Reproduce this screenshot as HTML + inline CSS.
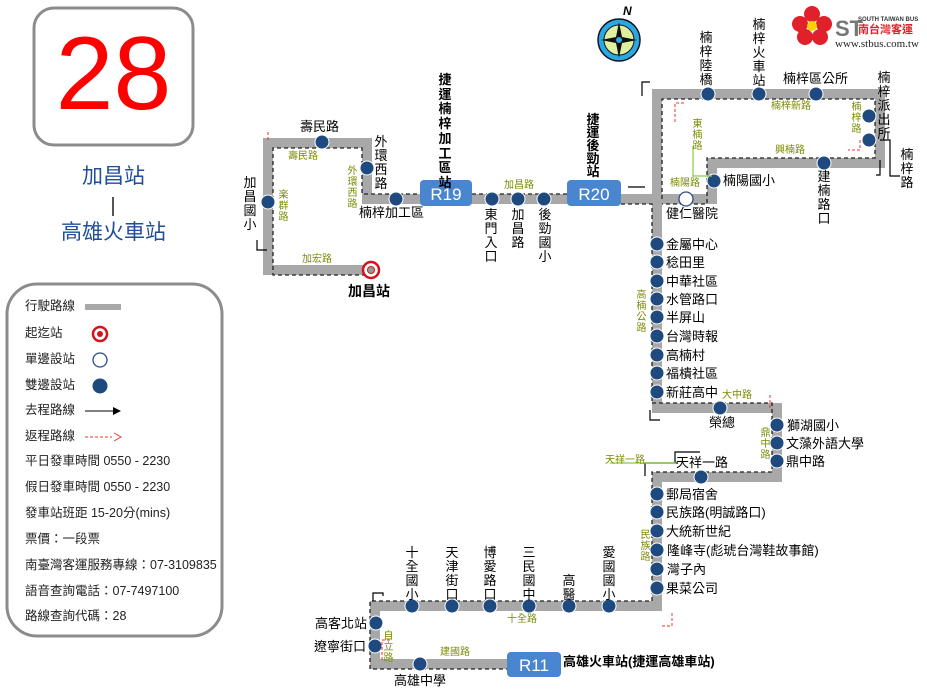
<!DOCTYPE html>
<html><head><meta charset="utf-8"><style>
body{margin:0;width:927px;height:694px;position:relative;background:#fff;font-family:"Liberation Sans","Noto Sans CJK TC",sans-serif;overflow:hidden}
.t{position:absolute;font-size:13px;color:#000;white-space:nowrap;line-height:1}
.v{position:absolute;font-size:13px;color:#000;width:14px;line-height:14px;text-align:center;word-break:break-all;white-space:normal}
.g{color:#7a8a00;font-size:10px}
.gv{position:absolute;color:#7a8a00;font-size:10px;width:11px;line-height:11px;text-align:center;word-break:break-all}
.b{font-weight:bold}
.lg{position:absolute;left:25px;font-size:12.5px;color:#222;line-height:1}
</style></head><body>
<svg width="927" height="694" style="position:absolute;left:0;top:0">
<!-- title box -->
<rect x="34" y="8" width="159" height="137" rx="20" fill="#fff" stroke="#8c8c8c" stroke-width="3"/>
<rect x="7" y="284" width="215" height="352" rx="30" fill="#fff" stroke="#8c8c8c" stroke-width="3"/>
<line x1="113" y1="197" x2="113" y2="216" stroke="#555" stroke-width="2"/>
<!-- route gray -->
<g fill="none" stroke="#a8a8a8" stroke-width="10" stroke-linejoin="miter">
<polyline points="371,270 268,270 268,143 367,143 367,199 657,199"/>
<polyline points="657,199 657,94 880,94 880,163 712,163 712,199 657,199"/>
<polyline points="657,199 657,408 777,408 777,477 657,477 657,606 375,606 375,664 560,664"/>
</g>
<g fill="none" stroke="#222" stroke-width="1.3" stroke-dasharray="4,3">
<polyline points="366,275 273,275 273,148 362,148 362,194 420,194"/>
<polyline points="472,194 567,194"/><polyline points="621,204 652,204 652,403"/>
<polyline points="662,199 662,99 875,99 875,158 707,158 707,204 662,204"/>
<polyline points="652,403 772,403 772,472 652,472 652,601 370,601 370,669 508,669"/>
</g>
<!-- legend symbols -->
<rect x="85" y="304" width="36" height="6" fill="#a8a8a8"/>
<circle cx="100" cy="334" r="7" fill="#fff" stroke="#d2141a" stroke-width="2.5"/><circle cx="100" cy="334" r="3" fill="#d2141a"/>
<circle cx="100" cy="360" r="7" fill="#fff" stroke="#2b4f86" stroke-width="1.3"/>
<circle cx="100" cy="386" r="7.5" fill="#1f4a80"/>
<line x1="85" y1="411" x2="114" y2="411" stroke="#000"/><polygon points="113,407 121,411 113,415"/>
<line x1="85" y1="437" x2="112" y2="437" stroke="#e33" stroke-dasharray="3,2"/><polyline points="114,433 121,437 114,441" fill="none" stroke="#e33"/>
<!-- nodes -->
<g fill="#1f4a80" stroke="#fff" stroke-width="1">
<circle cx="322" cy="142" r="7"/><circle cx="367" cy="168" r="7"/><circle cx="268" cy="202" r="7"/><circle cx="396" cy="199" r="7"/>
<circle cx="492" cy="199" r="7"/><circle cx="518" cy="199" r="7"/><circle cx="544" cy="199" r="7"/>
<circle cx="708" cy="94" r="7"/><circle cx="759" cy="94" r="7"/><circle cx="816" cy="94" r="7"/>
<circle cx="869" cy="116" r="7"/><circle cx="869" cy="140" r="7"/><circle cx="824" cy="163" r="7"/><circle cx="714" cy="181" r="7"/>
<circle cx="657" cy="244" r="7"/><circle cx="657" cy="262" r="7"/><circle cx="657" cy="281" r="7"/><circle cx="657" cy="299" r="7"/><circle cx="657" cy="317" r="7"/><circle cx="657" cy="336" r="7"/><circle cx="657" cy="355" r="7"/><circle cx="657" cy="373" r="7"/><circle cx="657" cy="392" r="7"/>
<circle cx="720" cy="408" r="7"/><circle cx="777" cy="425" r="7"/><circle cx="777" cy="443" r="7"/><circle cx="777" cy="461" r="7"/><circle cx="701" cy="477" r="7"/>
<circle cx="657" cy="494" r="7"/><circle cx="657" cy="512" r="7"/><circle cx="657" cy="531" r="7"/><circle cx="657" cy="550" r="7"/><circle cx="657" cy="569" r="7"/><circle cx="657" cy="588" r="7"/>
<circle cx="412" cy="606" r="7"/><circle cx="452" cy="606" r="7"/><circle cx="490" cy="606" r="7"/><circle cx="529" cy="606" r="7"/><circle cx="569" cy="606" r="7"/><circle cx="609" cy="606" r="7"/>
<circle cx="376" cy="623" r="7"/><circle cx="375" cy="646" r="7"/><circle cx="420" cy="664" r="7"/>
</g>
<circle cx="686" cy="199" r="7" fill="#fff" stroke="#2b4f86" stroke-width="1.3"/>
<circle cx="371" cy="270" r="8" fill="#fff" stroke="#d2141a" stroke-width="2.5"/><circle cx="371" cy="270" r="3.5" fill="#999" stroke="#d2141a"/>
<!-- MRT boxes -->
<rect x="420" y="180" width="52" height="26" rx="4" fill="#4a86cf"/>
<rect x="567" y="180" width="54" height="26" rx="4" fill="#4a86cf"/>
<rect x="507" y="652" width="54" height="25" rx="4" fill="#4a86cf"/>
<text x="446" y="200" fill="#fff" font-size="17" text-anchor="middle" font-family="Liberation Sans">R19</text>
<text x="594" y="200" fill="#fff" font-size="17" text-anchor="middle" font-family="Liberation Sans">R20</text>
<text x="534" y="671" fill="#fff" font-size="17" text-anchor="middle" font-family="Liberation Sans">R11</text>
<!-- arrows -->
<g stroke="#000" fill="none" stroke-width="1.2">
<polyline points="257,240 257,250 267,250"/><polyline points="628,187 645,187"/>
<polyline points="650,82 642,82 642,96"/><polyline points="876,175 880,175 880,160"/><polyline points="880,140 890,140 890,176 900,176"/>
<polyline points="650,410 650,420 660,420"/><polyline points="678,463 645,463 645,476"/><polyline points="383,596 383,593 373,593 373,601"/>
<polyline points="675,463 675,452 700,452"/><polyline points="693,146 693,176 712,176" stroke="#8c4"/><polyline points="610,463 676,463" stroke="#8c4"/>
</g>
<g stroke="#e33" fill="none" stroke-dasharray="3,2"><polyline points="675,122 675,103 685,103"/><polyline points="268,140 268,130"/><polyline points="860,140 860,150 848,150"/><polyline points="770,395 770,410"/><polyline points="662,626 672,626 672,612"/><polyline points="382,660 382,640 392,640"/></g>
<!-- compass -->
<circle cx="619" cy="40" r="21" fill="#2aa8e0" stroke="#112" stroke-width="1.5"/><circle cx="619" cy="40" r="15" fill="#dff0a0" stroke="#112"/>
<polygon points="619,22 622,37 637,40 622,43 619,58 616,43 601,40 616,37" fill="#111"/><circle cx="619" cy="40" r="3" fill="#2aa8e0"/>
<text x="623" y="15" font-size="12" font-weight="bold" font-style="italic" font-family="Liberation Sans">N</text>
<!-- logo -->
<g fill="#e0202a"><circle cx="812" cy="14" r="8"/><circle cx="800" cy="24" r="8"/><circle cx="824" cy="24" r="8"/><circle cx="805" cy="37" r="8"/><circle cx="820" cy="37" r="8"/></g><circle cx="812" cy="26" r="5" fill="#ffd000"/>
<text x="835" y="36" font-size="22" font-weight="bold" fill="#777" font-family="Liberation Sans">ST</text>
<text x="858" y="21" font-size="6" font-weight="bold" fill="#333" font-family="Liberation Sans">SOUTH TAIWAN BUS</text>
<text x="858" y="33" font-size="11" font-weight="bold" fill="#e0202a" font-family="Noto Sans CJK TC">南台灣客運</text>
<text x="835" y="47" font-size="11" fill="#222" font-family="Liberation Serif">www.stbus.com.tw</text>
</svg>
<div class="t" style="left:34px;top:22px;width:159px;text-align:center;font-size:104px;color:#f00">28</div>
<div class="t" style="left:34px;top:166px;width:159px;text-align:center;font-size:21px;color:#1f4e9a">加昌站</div>
<div class="t" style="left:34px;top:222px;width:159px;text-align:center;font-size:21px;color:#1f4e9a">高雄火車站</div>
<div class="lg" style="top:300px">行駛路線</div><div class="lg" style="top:327px">起迄站</div><div class="lg" style="top:353px">單邊設站</div><div class="lg" style="top:379px">雙邊設站</div><div class="lg" style="top:404px">去程路線</div><div class="lg" style="top:430px">返程路線</div>
<div class="lg" style="top:455px">平日發車時間 0550 - 2230</div><div class="lg" style="top:481px">假日發車時間 0550 - 2230</div><div class="lg" style="top:507px">發車站班距 15-20分(mins)</div><div class="lg" style="top:533px">票價：一段票</div><div class="lg" style="top:559px">南臺灣客運服務專線：07-3109835</div><div class="lg" style="top:585px">語音查詢電話：07-7497100</div><div class="lg" style="top:610px">路線查詢代碼：28</div>
<!-- left loop -->
<div class="t" style="left:300px;top:120px">壽民路</div>
<div class="v" style="left:374px;top:135px">外環西路</div>
<div class="v" style="left:243px;top:176px">加昌國小</div>
<div class="t" style="left:359px;top:206px">楠梓加工區</div>
<div class="v" style="left:484px;top:208px">東門入口</div><div class="v" style="left:511px;top:208px">加昌路</div><div class="v" style="left:538px;top:208px">後勁國小</div>
<div class="v b" style="left:438px;top:73px;line-height:14.7px">捷運楠梓加工區站</div>
<div class="v b" style="left:586px;top:113px;line-height:13px">捷運後勁站</div>
<div class="t b" style="left:348px;top:284px;font-size:14px">加昌站</div>
<div class="t g" style="left:288px;top:152px">壽民路</div><div class="gv" style="left:278px;top:190px">楽群路</div><div class="gv" style="left:347px;top:166px">外環西路</div><div class="t g" style="left:302px;top:255px">加宏路</div><div class="t g" style="left:504px;top:181px">加昌路</div>
<!-- top right -->
<div class="v" style="left:699px;top:31px">楠梓陸橋</div><div class="v" style="left:752px;top:18px">楠梓火車站</div><div class="t" style="left:783px;top:72px">楠梓區公所</div>
<div class="v" style="left:877px;top:71px">楠梓派出所</div><div class="v" style="left:900px;top:148px">楠梓路</div><div class="v" style="left:817px;top:170px">建楠路口</div>
<div class="t" style="left:723px;top:174px">楠陽國小</div><div class="t" style="left:666px;top:207px">健仁醫院</div>
<div class="t g" style="left:771px;top:102px">楠梓新路</div><div class="gv" style="left:851px;top:102px">楠梓路</div><div class="t g" style="left:775px;top:146px">興楠路</div><div class="gv" style="left:692px;top:119px">東楠路</div><div class="t g" style="left:670px;top:179px">楠陽路</div>
<!-- vertical list -->
<div class="t" style="left:666px;top:238px">金屬中心</div><div class="t" style="left:666px;top:256px">稔田里</div><div class="t" style="left:666px;top:275px">中華社區</div><div class="t" style="left:666px;top:293px">水管路口</div><div class="t" style="left:666px;top:311px">半屏山</div><div class="t" style="left:666px;top:330px">台灣時報</div><div class="t" style="left:666px;top:349px">高楠村</div><div class="t" style="left:666px;top:367px">福樻社區</div><div class="t" style="left:666px;top:386px">新莊高中</div>
<div class="gv" style="left:636px;top:290px">高楠公路</div>
<div class="t g" style="left:722px;top:391px">大中路</div><div class="gv" style="left:760px;top:428px">鼎中路</div><div class="t g" style="left:605px;top:456px">天祥一路</div>
<div class="t" style="left:709px;top:416px">榮總</div>
<div class="t" style="left:787px;top:419px">獅湖國小</div><div class="t" style="left:786px;top:437px">文藻外語大學</div><div class="t" style="left:786px;top:455px">鼎中路</div><div class="t" style="left:676px;top:456px">天祥一路</div>
<div class="t" style="left:666px;top:488px">郵局宿舍</div><div class="t" style="left:666px;top:506px">民族路(明誠路口)</div><div class="t" style="left:666px;top:525px">大統新世紀</div><div class="t" style="left:667px;top:544px">隆峰寺(彪琥台灣鞋故事館)</div><div class="t" style="left:667px;top:563px">灣子內</div><div class="t" style="left:666px;top:582px">果菜公司</div>
<div class="gv" style="left:640px;top:530px">民族路</div>
<!-- bottom -->
<div class="v" style="left:405px;top:546px">十全國小</div><div class="v" style="left:445px;top:546px">天津街口</div><div class="v" style="left:483px;top:546px">博愛路口</div><div class="v" style="left:522px;top:546px">三民國中</div><div class="v" style="left:562px;top:574px">高醫</div><div class="v" style="left:602px;top:546px">愛國國小</div>
<div class="t g" style="left:507px;top:615px">十全路</div><div class="gv" style="left:383px;top:631px">自立路</div><div class="t g" style="left:440px;top:648px">建國路</div>
<div class="t" style="left:315px;top:617px">高客北站</div><div class="t" style="left:314px;top:640px">遼寧街口</div><div class="t" style="left:394px;top:674px">高雄中學</div>
<div class="t b" style="left:563px;top:655px">高雄火車站(捷運高雄車站)</div>
</body></html>
